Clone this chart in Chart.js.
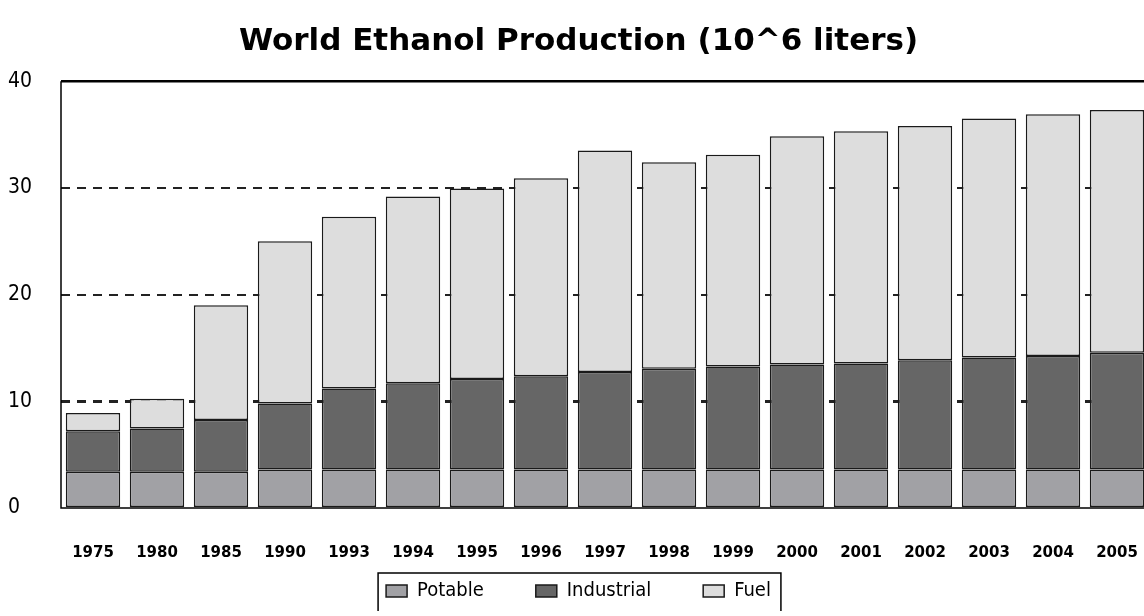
<!DOCTYPE html>
<html>
<head>
<meta charset="utf-8">
<script src="https://cdn.jsdelivr.net/npm/chart.js@4/dist/chart.umd.min.js"></script>
<style>
  html, body { margin: 0; padding: 0; background: #fff; overflow: hidden; }
  #wrap { width: 1144px; height: 616px; overflow: hidden; background: #fff; }
</style>
</head>
<body>
<div id="wrap"><canvas id="chart" width="1149" height="611"></canvas></div>
<script>
// ── Data ─────────────────────────────────────────────────────────────────────
const YEARS = ["1975", "1980", "1985", "1990", "1993", "1994", "1995", "1996", "1997",
               "1998", "1999", "2000", "2001", "2002", "2003", "2004", "2005"];

const POTABLE    = [3.4, 3.4, 3.4, 3.6, 3.6, 3.6, 3.6, 3.6, 3.6,
                    3.6, 3.6, 3.6, 3.6, 3.6, 3.6, 3.6, 3.6];
const INDUSTRIAL = [3.8, 4.05, 4.85, 6.2, 7.6, 8.1, 8.5, 8.75, 9.15,
                    9.45, 9.65, 9.85, 9.95, 10.25, 10.5, 10.65, 10.95];
const FUEL       = [1.7, 2.8, 10.75, 15.2, 16.1, 17.5, 17.85, 18.55, 20.75,
                    19.35, 19.85, 21.4, 21.75, 21.95, 22.4, 22.65, 22.75];

const Y_TICKS = [0, 10, 20, 30, 40];
const TITLE = "World Ethanol Production (10^6 liters)";

// ── Styles ───────────────────────────────────────────────────────────────────
const COLORS = { potable: "#a1a1a5", industrial: "#666666", fuel: "#dddddd" };
const EDGE = "#1a1a1a";
const NARROW = "'Liberation Sans Narrow', 'DejaVu Sans Condensed', 'Roboto', sans-serif";

function series(label, data, color) {
  return {
    label,
    data,
    backgroundColor: color,
    borderColor: EDGE,
    borderWidth: 1.5,
    borderSkipped: false,
    barPercentage: 0.85,
    categoryPercentage: 1.0,
  };
}

// frame round the plot area + box round the legend
const framePlugin = {
  id: "frame",
  afterDatasetsDraw(chart) {
    const { ctx, chartArea: a } = chart;
    ctx.save();
    ctx.strokeStyle = "#000";
    ctx.lineWidth = 1.5;
    ctx.beginPath();
    ctx.moveTo(a.left, a.top);
    ctx.lineTo(a.left, a.bottom);
    ctx.lineTo(a.right, a.bottom);
    ctx.stroke();
    ctx.lineWidth = 2.5;
    ctx.beginPath();
    ctx.moveTo(a.left, a.top);
    ctx.lineTo(a.right, a.top);
    ctx.stroke();
    ctx.restore();
  },
  afterDraw(chart) {
    const boxes = chart.legend && chart.legend.legendHitBoxes;
    if (!boxes || !boxes.length) return;
    const left  = Math.min(...boxes.map(b => b.left)) - 8;
    const right = Math.max(...boxes.map(b => b.left + b.width)) + 10;
    const top   = Math.min(...boxes.map(b => b.top)) - 8;
    const { ctx } = chart;
    ctx.save();
    ctx.strokeStyle = "#000";
    ctx.lineWidth = 1.5;
    ctx.strokeRect(left, top, right - left, 60);
    ctx.restore();
  },
};

new Chart(document.getElementById("chart"), {
  type: "bar",
  data: {
    labels: YEARS,
    datasets: [
      series("Potable", POTABLE, COLORS.potable),
      series("Industrial", INDUSTRIAL, COLORS.industrial),
      series("Fuel", FUEL, COLORS.fuel),
    ],
  },
  options: {
    responsive: false,
    animation: false,
    layout: { padding: { left: 8, right: 0, top: 0, bottom: 0 } },
    plugins: {
      tooltip: { enabled: false },
      title: {
        display: true,
        text: TITLE,
        color: "#000",
        font: { family: "'DejaVu Sans', sans-serif", size: 31, weight: "bold" },
        padding: { top: 23, bottom: 21 },
      },
      legend: {
        position: "bottom",
        labels: {
          color: "#000",
          boxWidth: 21,
          boxHeight: 12,
          padding: 52,
          font: { family: NARROW, size: 20 },
          generateLabels(chart) {
            return chart.data.datasets.map((ds, i) => ({
              text: ds.label,
              fillStyle: ds.backgroundColor,
              strokeStyle: EDGE,
              lineWidth: 1.5,
              hidden: false,
              datasetIndex: i,
              fontColor: "#000",
            }));
          },
        },
      },
    },
    scales: {
      x: {
        stacked: true,
        grid: { display: false },
        border: { display: false },
        afterFit(scale) {
          // short axis box; labels hang below into the legend's top padding
          scale.height = 21;
          scale.paddingLeft = 0;
          scale.paddingRight = 0;
          scale._computeLabelArea = () => null;
        },
        ticks: {
          color: "#000",
          padding: 28,
          maxRotation: 0,
          autoSkip: false,
          font: { family: "'DejaVu Sans', sans-serif", size: 15, weight: "bold" },
        },
      },
      y: {
        stacked: true,
        min: 0,
        max: 40,
        afterBuildTicks(scale) { scale.ticks = Y_TICKS.map(v => ({ value: v })); },
        afterFit(scale) { scale.width = 53; },
        border: { display: false, dash: [9, 7] },
        grid: {
          drawTicks: false,
          color: ctx => (ctx.tick && (ctx.tick.value === 0 || ctx.tick.value === 40)) ? "rgba(0,0,0,0)" : "#222",
          lineWidth: ctx => (ctx.tick && ctx.tick.value === 10) ? 3 : 2,
        },
        ticks: {
          color: "#000",
          crossAlign: "far",
          padding: 0,
          font: { family: NARROW, size: 21 },
        },
      },
    },
  },
  plugins: [framePlugin],
});
</script>
</body>
</html>
